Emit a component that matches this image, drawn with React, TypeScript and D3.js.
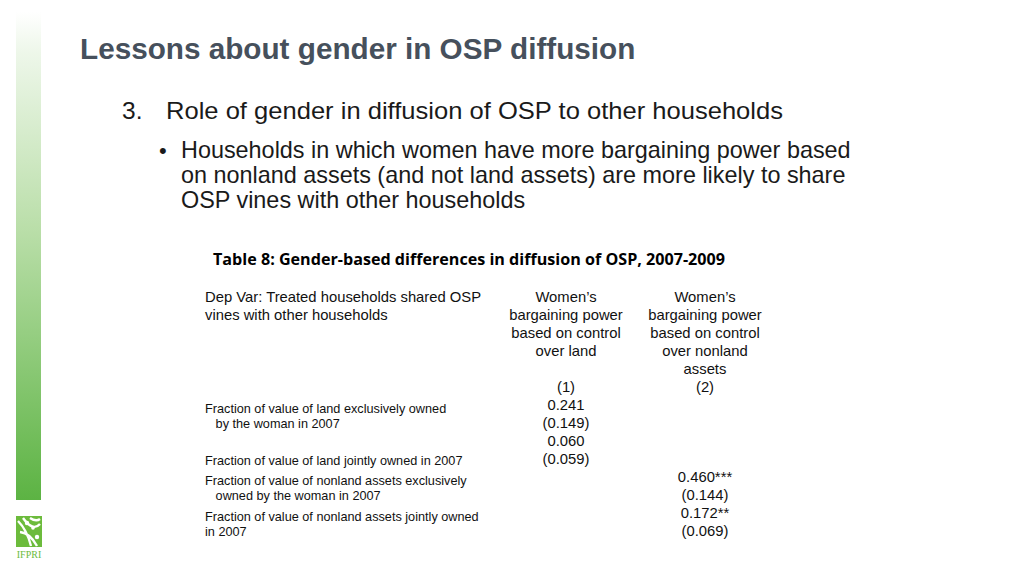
import React from "react";
import * as d3 from "d3";

const title = "Lessons about gender in OSP diffusion";
const pointNumber = "3.";
const pointText = "Role of gender in diffusion of OSP to other households";
const bulletLines = [
  "Households in which women have more bargaining power based",
  "on nonland assets (and not land assets) are more likely to share",
  "OSP vines with other households",
];
const tableCaption = "Table 8: Gender-based differences in diffusion of OSP, 2007-2009";
const depVarLines = ["Dep Var: Treated households shared OSP", "vines with other households"];
const col1Header = ["Women\u2019s", "bargaining power", "based on control", "over land"];
const col2Header = ["Women\u2019s", "bargaining power", "based on control", "over nonland", "assets"];
const colNumbers = ["(1)", "(2)"];

const rowLabels = [
  ["Fraction of value of land exclusively owned", "   by the woman in 2007"],
  ["Fraction of value of land jointly owned in 2007"],
  ["Fraction of value of nonland assets exclusively", "   owned by the woman in 2007"],
  ["Fraction of value of nonland assets jointly owned", "in 2007"],
];
const col1Coef = ["0.241", "0.060", "", ""];
const col1SE = ["(0.149)", "(0.059)", "", ""];
const col2Coef = ["", "", "0.460***", "0.172**"];
const col2SE = ["", "", "(0.144)", "(0.069)"];

const W = 1024;
const H = 576;

export default function App() {
  const colX = d3.scaleOrdinal<number, number>().domain([0, 1]).range([566, 705]);
  const headerY = d3.scaleLinear().domain([0, 1]).range([302, 320]);
  const valueY = d3.scaleLinear().domain([0, 1]).range([410, 428]);
  const labelTop = [413, 465, 485, 521];
  const sans = "'Liberation Sans', Arial, sans-serif";
  const tfs = 14.8;

  return (
    <svg width={W} height={H} style={{ position: "absolute", left: 0, top: 0, background: "#fff" }}>
      <defs>
        <linearGradient id="bar" x1="0" y1="0" x2="0" y2="1">
          <stop offset="0" stopColor="#ffffff" />
          <stop offset="0.08" stopColor="#eef7ea" />
          <stop offset="0.45" stopColor="#b9dea8" />
          <stop offset="1" stopColor="#5cb343" />
        </linearGradient>
      </defs>
      <rect x={16} y={12} width={25} height={488} fill="url(#bar)" />
      {/* logo */}
      <g>
        <rect x={16} y={516} width={26} height={31} fill="#6cbb3c" />
        <path d="M18 521 Q27 530 31 546 M23 518 Q33 532 40 524 M20 532 Q30 533 37 546 M30 518 Q36 522 40 519" stroke="#fff" strokeWidth={2.4} fill="none" />
        <circle cx={27} cy={523} r={2.2} fill="#fff" />
        <circle cx={37} cy={537} r={2.2} fill="#fff" />
        <circle cx={33} cy={528} r={1.8} fill="#fff" />
        <text x={29} y={558} textAnchor="middle" fontFamily="'Liberation Serif', serif" fontSize={10} fill="#6cbb3c">IFPRI</text>
      </g>

      <text x={80} y={59} fontFamily={sans} fontWeight="bold" fontSize={29.7} fill="#46505c">
        {title}
      </text>
      <text x={122} y={119} fontFamily={sans} fontSize={24.5} fill="#1a1a1a">
        {pointNumber}
      </text>
      <text x={166} y={119} fontFamily={sans} fontSize={24.5} fill="#1a1a1a" textLength={617} lengthAdjust="spacingAndGlyphs">
        {pointText}
      </text>
      <text x={159} y={158} fontFamily={sans} fontSize={22} fill="#1a1a1a">
        •
      </text>
      {bulletLines.map((l, i) => (
        <text key={i} x={181} y={158 + i * 25} fontFamily={sans} fontSize={23.4} fill="#1a1a1a">
          {l}
        </text>
      ))}

      <text x={213} y={265} fontFamily="'Open Sans', Lato, sans-serif" fontWeight="bold" fontSize={15.5} fill="#000" textLength={512} lengthAdjust="spacingAndGlyphs">
        {tableCaption}
      </text>

      {depVarLines.map((l, i) => (
        <text key={i} x={205} y={headerY(i)} fontFamily={sans} fontSize={tfs} fill="#111">
          {l}
        </text>
      ))}
      {[col1Header, col2Header].map((h, c) =>
        h.map((l, i) => (
          <text key={c + "-" + i} x={colX(c)} y={headerY(i)} textAnchor="middle" fontFamily={sans} fontSize={tfs} fill="#111">
            {l}
          </text>
        ))
      )}
      {colNumbers.map((n, c) => (
        <text key={n} x={colX(c)} y={headerY(5)} textAnchor="middle" fontFamily={sans} fontSize={tfs} fill="#111">
          {n}
        </text>
      ))}

      {rowLabels.map((lines, r) =>
        lines.map((l, i) => (
          <text key={r + "-" + i} x={205} y={labelTop[r] + i * 15} fontFamily={sans} fontSize={12.7} fill="#111" style={{ whiteSpace: "pre" }}>
            {l}
          </text>
        ))
      )}

      {col1Coef.map((v, r) =>
        v ? (
          <g key={"c1" + r}>
            <text x={colX(0)} y={valueY(r * 2)} textAnchor="middle" fontFamily={sans} fontSize={tfs} fill="#111">{v}</text>
            <text x={colX(0)} y={valueY(r * 2 + 1)} textAnchor="middle" fontFamily={sans} fontSize={tfs} fill="#111">{col1SE[r]}</text>
          </g>
        ) : null
      )}
      {col2Coef.map((v, r) =>
        v ? (
          <g key={"c2" + r}>
            <text x={colX(1)} y={valueY(r * 2)} textAnchor="middle" fontFamily={sans} fontSize={tfs} fill="#111">{v}</text>
            <text x={colX(1)} y={valueY(r * 2 + 1)} textAnchor="middle" fontFamily={sans} fontSize={tfs} fill="#111">{col2SE[r]}</text>
          </g>
        ) : null
      )}
    </svg>
  );
}
